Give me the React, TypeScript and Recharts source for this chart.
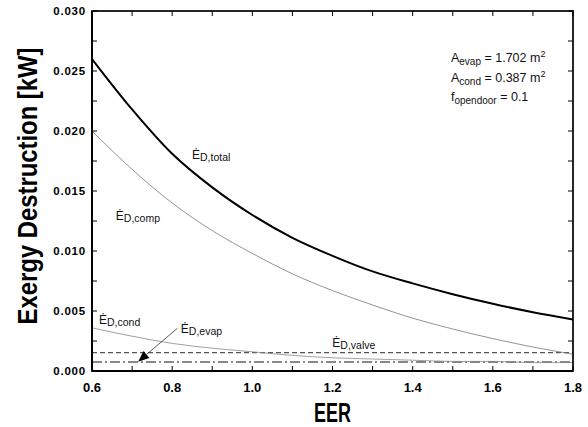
import React from "react";
import { LineChart, Line, XAxis, YAxis, ReferenceDot, ReferenceLine } from "recharts";

const SANS = "'Liberation Sans', Arial, sans-serif";

const eer = [0.6, 0.7, 0.8, 0.9, 1.0, 1.1, 1.2, 1.3, 1.4, 1.5, 1.6, 1.7, 1.8];
const total = [0.026, 0.0218, 0.0181, 0.0153, 0.013, 0.0111, 0.0096, 0.0083, 0.0073, 0.0064, 0.0056, 0.0049, 0.0043];
const comp = [0.02, 0.0168, 0.014, 0.0117, 0.0098, 0.0081, 0.0067, 0.0055, 0.0044, 0.0035, 0.0027, 0.002, 0.0014];
const cond = [0.0036, 0.0029, 0.0023, 0.0019, 0.0016, 0.0013, 0.0011, 0.001, 0.0009, 0.0008, 0.0008, 0.0007, 0.0007];
const valve = [0.00153, 0.00153, 0.00153, 0.00153, 0.00153, 0.00153, 0.00153, 0.00153, 0.00153, 0.00153, 0.00153, 0.00153, 0.00153];
const evap = [0.00075, 0.00075, 0.00075, 0.00075, 0.00075, 0.00075, 0.00075, 0.00075, 0.00075, 0.00075, 0.00075, 0.00075, 0.00075];

const xTicks = [0.6, 0.7, 0.8, 0.9, 1.0, 1.1, 1.2, 1.3, 1.4, 1.5, 1.6, 1.7, 1.8];
const yTicks = [0, 0.0025, 0.005, 0.0075, 0.01, 0.0125, 0.015, 0.0175, 0.02, 0.0225, 0.025, 0.0275, 0.03];
const X_MIN = 0.6;
const X_MAX = 1.8;
const Y_MIN = 0;
const Y_MAX = 0.03;

// chart layout
const W = 588;
const H = 427;
const M_TOP = 11;
const M_RIGHT = 15;
const Y_AXIS_W = 92;
const X_AXIS_H = 56;
const PLOT_L = Y_AXIS_W;
const PLOT_T = M_TOP;
const PLOT_W = W - M_RIGHT - Y_AXIS_W;
const PLOT_H = H - M_TOP - X_AXIS_H;

const data = eer.map((x, i) => ({
  x,
  total: total[i],
  comp: comp[i],
  cond: cond[i],
  valve: valve[i],
  evap: evap[i],
}));

const isMajorX = (v: number) => Math.round(v * 10) % 2 === 0;
const isMajorY = (v: number) => Math.abs(v * 200 - Math.round(v * 200)) < 1e-6;

function BottomTick({ x, y, payload }: any) {
  const v = payload.value;
  return (
    <g>
      {isMajorX(v) && (
        <text x={x} y={y + 21} textAnchor="middle" fontFamily={SANS} fontWeight="bold" fontSize={13} fill="#000">
          {v.toFixed(1)}
        </text>
      )}
    </g>
  );
}

function LeftTick({ x, y, payload }: any) {
  const v = payload.value;
  return (
    <g>
      {isMajorY(v) && (
        <text x={x - 6} y={y + 4} textAnchor="end" fontFamily={SANS} fontWeight="bold" fontSize={11.5} letterSpacing={0.8} fill="#000">
          {v.toFixed(3)}
        </text>
      )}
    </g>
  );
}

// frame box with inward ticks on all four sides, laid over the plot area
function Frame() {
  const px = (v: number) => PLOT_L + ((v - X_MIN) / (X_MAX - X_MIN)) * PLOT_W;
  const py = (v: number) => PLOT_T + PLOT_H - ((v - Y_MIN) / (Y_MAX - Y_MIN)) * PLOT_H;
  const bottom = PLOT_T + PLOT_H;
  const right = PLOT_L + PLOT_W;
  return (
    <svg
      width={W}
      height={H}
      style={{ position: "absolute", left: 0, top: 0, pointerEvents: "none" }}
    >
      <rect x={PLOT_L} y={PLOT_T} width={PLOT_W} height={PLOT_H} fill="none" stroke="#000" strokeWidth={1.7} />
      {xTicks.map((v) => (
        <g key={`x${v}`}>
          <line x1={px(v)} y1={bottom} x2={px(v)} y2={bottom - 5} stroke="#000" strokeWidth={1} />
          <line x1={px(v)} y1={PLOT_T} x2={px(v)} y2={PLOT_T + 5} stroke="#000" strokeWidth={1} />
        </g>
      ))}
      {yTicks.map((v) => (
        <g key={`y${v}`}>
          <line x1={PLOT_L} y1={py(v)} x2={PLOT_L + 5} y2={py(v)} stroke="#000" strokeWidth={1} />
          <line x1={right} y1={py(v)} x2={right - 5} y2={py(v)} stroke="#000" strokeWidth={1} />
        </g>
      ))}
    </svg>
  );
}

function YTitle({ viewBox }: any) {
  const cx = 37;
  const cy = viewBox.y + viewBox.height / 2 - 5;
  return (
    <text
      x={cx}
      y={cy}
      transform={`rotate(-90, ${cx}, ${cy})`}
      textAnchor="middle"
      fontFamily={SANS}
      fontWeight="bold"
      fontSize={27}
      textLength={277}
      lengthAdjust="spacingAndGlyphs"
      fill="#000"
    >
      Exergy Destruction [kW]
    </text>
  );
}

function XTitle({ viewBox }: any) {
  const cx = viewBox.x + viewBox.width / 2;
  return (
    <text
      x={cx}
      y={viewBox.y + 51}
      textAnchor="middle"
      fontFamily={SANS}
      fontWeight="bold"
      fontSize={27}
      textLength={37}
      lengthAdjust="spacingAndGlyphs"
      fill="#000"
    >
      EER
    </text>
  );
}

const seriesLabel = (sub: string) => (props: any) => {
  const { x, y } = props.viewBox;
  return (
    <text x={x} y={y} fontFamily={SANS} fontSize={12} fill="#111">
      <tspan>Ė</tspan>
      <tspan dy={2} fontSize={10.5}>{sub}</tspan>
    </text>
  );
};

function ParamsLabel(props: any) {
  const { x, y } = props.viewBox;
  return (
    <g fontFamily={SANS} fill="#111">
      <text x={x} y={y} fontSize={12.5}>
        <tspan>A</tspan>
        <tspan dy={3} fontSize={10}>evap</tspan>
        <tspan dy={-3}> = 1.702 m</tspan>
        <tspan dy={-5} fontSize={9}>2</tspan>
      </text>
      <text x={x} y={y + 20} fontSize={12.5}>
        <tspan>A</tspan>
        <tspan dy={3} fontSize={10}>cond</tspan>
        <tspan dy={-3}> = 0.387 m</tspan>
        <tspan dy={-5} fontSize={9}>2</tspan>
      </text>
      <text x={x} y={y + 39} fontSize={12.5}>
        <tspan>f</tspan>
        <tspan dy={3} fontSize={10}>opendoor</tspan>
        <tspan dy={-3}> = 0.1</tspan>
      </text>
    </g>
  );
}

function ArrowShape({ x1, y1, x2, y2 }: any) {
  const ang = Math.atan2(y2 - y1, x2 - x1);
  const len = 11;
  const half = 4.5;
  const bx = x2 - len * Math.cos(ang);
  const by = y2 - len * Math.sin(ang);
  const px = -Math.sin(ang) * half;
  const py = Math.cos(ang) * half;
  return (
    <g>
      <line x1={x1} y1={y1} x2={bx} y2={by} stroke="#333" strokeWidth={0.8} />
      <polygon points={`${x2},${y2} ${bx + px},${by + py} ${bx - px},${by - py}`} fill="#000" />
    </g>
  );
}

export default function App() {
  return (
    <div style={{ position: "absolute", left: 0, top: 0, width: W, height: H, background: "#fff" }}>
      <LineChart
        width={W}
        height={H}
        data={data}
        margin={{ top: M_TOP, right: M_RIGHT, left: 0, bottom: 0 }}
        style={{ fontFamily: SANS }}
      >
        <XAxis
          dataKey="x"
          type="number"
          domain={[X_MIN, X_MAX]}
          ticks={xTicks}
          interval={0}
          allowDataOverflow
          height={X_AXIS_H}
          tickSize={0}
          tickMargin={0}
          tickLine={false}
          tick={<BottomTick />}
          axisLine={{ stroke: "#000", strokeWidth: 1.8 }}
          label={{ content: XTitle }}
        />
        <YAxis
          type="number"
          domain={[Y_MIN, Y_MAX]}
          ticks={yTicks}
          interval={0}
          allowDataOverflow
          width={Y_AXIS_W}
          tickSize={0}
          tickMargin={0}
          tickLine={false}
          tick={<LeftTick />}
          axisLine={{ stroke: "#000", strokeWidth: 1.8 }}
          label={{ content: YTitle }}
        />
        <Line dataKey="valve" type="linear" stroke="#555" strokeWidth={1.3} strokeDasharray="5 3" dot={false} isAnimationActive={false} />
        <Line dataKey="evap" type="linear" stroke="#111" strokeWidth={1} strokeDasharray="10 3 2 3" dot={false} isAnimationActive={false} />
        <Line dataKey="cond" type="monotone" stroke="#888" strokeWidth={0.8} dot={false} isAnimationActive={false} />
        <Line dataKey="comp" type="monotone" stroke="#777" strokeWidth={0.8} dot={false} isAnimationActive={false} />
        <Line dataKey="total" type="monotone" stroke="#000" strokeWidth={2} dot={false} isAnimationActive={false} />

        <ReferenceLine
          segment={[{ x: 0.813, y: 0.00356 }, { x: 0.715, y: 0.00078 }]}
          shape={<ArrowShape />}
        />
        <ReferenceDot x={0.852} y={0.01758} r={1} fill="none" stroke="none" label={{ content: seriesLabel("D,total") }} />
        <ReferenceDot x={0.662} y={0.0125} r={1} fill="none" stroke="none" label={{ content: seriesLabel("D,comp") }} />
        <ReferenceDot x={0.62} y={0.0038} r={1} fill="none" stroke="none" label={{ content: seriesLabel("D,cond") }} />
        <ReferenceDot x={0.824} y={0.0031} r={1} fill="none" stroke="none" label={{ content: seriesLabel("D,evap") }} />
        <ReferenceDot x={1.202} y={0.0019} r={1} fill="none" stroke="none" label={{ content: seriesLabel("D,valve") }} />
        <ReferenceDot x={1.498} y={0.0257} r={1} fill="none" stroke="none" label={{ content: ParamsLabel }} />
      </LineChart>
      <Frame />
    </div>
  );
}
